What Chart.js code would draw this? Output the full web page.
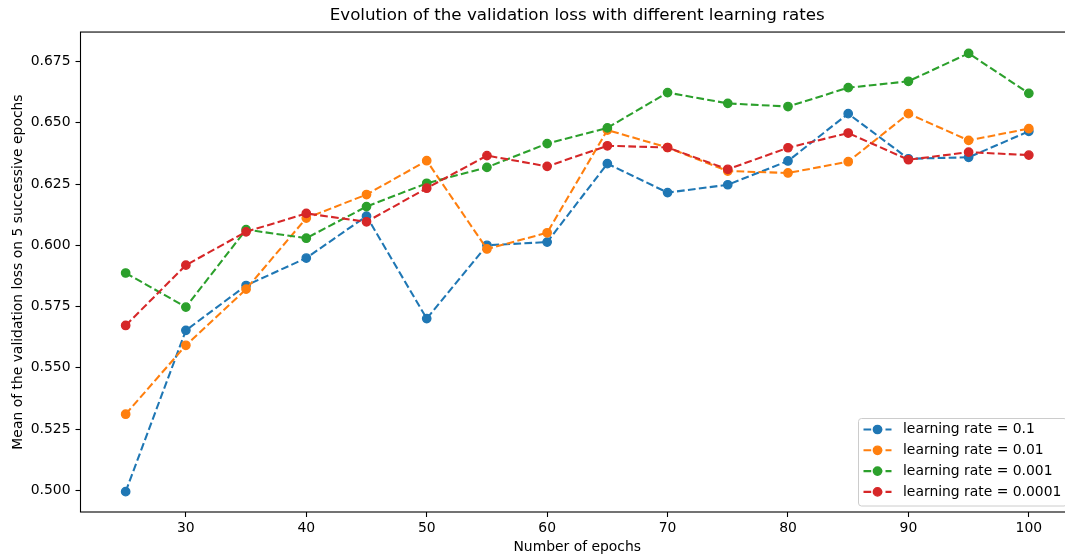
<!DOCTYPE html>
<html>
<head>
<meta charset="utf-8">
<script src="https://cdn.jsdelivr.net/npm/chart.js@4"></script>
<style>
  html, body { margin: 0; padding: 0; background: #fff; overflow: hidden; }
  /* el borde derecho del grafico original queda fuera de la imagen */
  #wrap { width: 1065px; height: 556px; overflow: hidden; }
</style>
</head>
<body>
<div id="wrap"><canvas id="lossChart" width="1080" height="556"></canvas></div>
<script>
// Datos
const epochs = [25, 30, 35, 40, 45, 50, 55, 60, 65, 70, 75, 80, 85, 90, 95, 100];
const lossLr1 = [0.4995, 0.5653, 0.5836, 0.5948, 0.6119, 0.5701, 0.6000, 0.6013, 0.6333, 0.6215, 0.6247, 0.6344, 0.6537, 0.6353, 0.6359, 0.6465];
const lossLr01 = [0.5311, 0.5592, 0.5821, 0.6111, 0.6207, 0.6345, 0.5985, 0.6051, 0.6470, 0.6399, 0.6303, 0.6295, 0.6341, 0.6537, 0.6428, 0.6476];
const lossLr001 = [0.5887, 0.5748, 0.6064, 0.6029, 0.6158, 0.6253, 0.6318, 0.6415, 0.6479, 0.6623, 0.6579, 0.6566, 0.6643, 0.6669, 0.6783, 0.6620];
const lossLr0001 = [0.5673, 0.5919, 0.6055, 0.6130, 0.6096, 0.6233, 0.6366, 0.6322, 0.6406, 0.6399, 0.6310, 0.6398, 0.6458, 0.6349, 0.6380, 0.6368];
const seriesLabels = ['learning rate = 0.1', 'learning rate = 0.01', 'learning rate = 0.001', 'learning rate = 0.0001'];
const xTicks = [30, 40, 50, 60, 70, 80, 90, 100];
const yTicks = [0.500, 0.525, 0.550, 0.575, 0.600, 0.625, 0.650, 0.675];

const colors = ['#1f77b4', '#ff7f0e', '#2ca02c', '#d62728'];
const FONT = "'DejaVu Sans', sans-serif";
const dash = [7.7, 3.3];

function makeDataset(label, values, i) {
    return {
        label: label,
        data: epochs.map((e, k) => ({ x: e, y: values[k] })),
        borderColor: colors[i],
        backgroundColor: colors[i],
        borderWidth: 2.08,
        borderDash: dash,
        pointRadius: 4.17,
        pointBorderWidth: 1.39,
        pointBackgroundColor: colors[i],
        pointBorderColor: colors[i],
        tension: 0,
        fill: false,
        order: 3 - i  // el primero queda debajo
    };
}

// Marco del grafico y leyenda estilo matplotlib
const framePlugin = {
    id: 'frame',
    afterDatasetsDraw(chart) {
        const { ctx, chartArea: a } = chart;
        ctx.save();
        ctx.strokeStyle = '#000';
        ctx.lineWidth = 1.1;
        ctx.strokeRect(a.left, a.top, a.right - a.left, a.bottom - a.top);
        ctx.restore();
    },
    afterDraw(chart) {
        const ctx = chart.ctx;
        const a = chart.chartArea;
        const x1 = a.right - 7, y1 = a.bottom - 6;
        const x0 = 858.5, y0 = 418.5;
        ctx.save();
        ctx.beginPath();
        ctx.roundRect(x0, y0, x1 - x0, y1 - y0, 3);
        ctx.fillStyle = 'rgba(255,255,255,0.8)';
        ctx.fill();
        ctx.strokeStyle = '#cccccc';
        ctx.lineWidth = 1;
        ctx.stroke();
        chart.data.datasets.forEach((ds, i) => {
            const y = 429.5 + i * 20.8;
            ctx.beginPath();
            ctx.setLineDash(dash);
            ctx.strokeStyle = ds.borderColor;
            ctx.lineWidth = 2.08;
            ctx.moveTo(863.5, y);
            ctx.lineTo(891.5, y);
            ctx.stroke();
            ctx.setLineDash([]);
            ctx.beginPath();
            ctx.arc(877.5, y, 4.17, 0, Math.PI * 2);
            ctx.fillStyle = ds.borderColor;
            ctx.fill();
            ctx.lineWidth = 1.39;
            ctx.stroke();
            ctx.fillStyle = '#000';
            ctx.font = '13.9px ' + FONT;
            ctx.textBaseline = 'middle';
            ctx.fillText(ds.label, 903, y);
        });
        ctx.restore();
    }
};

const chart = new Chart(document.getElementById('lossChart').getContext('2d'), {
    type: 'line',
    data: {
        datasets: [
            makeDataset(seriesLabels[0], lossLr1, 0),
            makeDataset(seriesLabels[1], lossLr01, 1),
            makeDataset(seriesLabels[2], lossLr001, 2),
            makeDataset(seriesLabels[3], lossLr0001, 3)
        ]
    },
    options: {
        responsive: false,
        animation: false,
        layout: { padding: { left: 0, right: 6, top: 0, bottom: 0 } },
        plugins: {
            legend: { display: false },
            tooltip: { enabled: false },
            title: {
                display: true,
                text: 'Evolution of the validation loss with different learning rates',
                color: '#000',
                fullSize: false,
                font: { family: FONT, size: 16.7, weight: 'normal' },
                padding: { top: 6, bottom: 6 }
            }
        },
        scales: {
            x: {
                type: 'linear',
                min: 21.25,
                max: 103.75,
                afterBuildTicks: s => { s.ticks = xTicks.map(v => ({ value: v })); },
                afterFit: s => { s.height = 44; s.paddingLeft = 0; s.paddingRight = 0; },
                ticks: {
                    autoSkip: false,
                    maxRotation: 0,
                    color: '#000',
                    padding: 3,
                    font: { family: FONT, size: 13.9 },
                    callback: v => String(v)
                },
                grid: { drawOnChartArea: false, drawTicks: true, tickLength: 5, tickColor: '#000', tickWidth: 1.1 },
                border: { display: false },
                title: {
                    display: true,
                    text: 'Number of epochs',
                    color: '#000',
                    font: { family: FONT, size: 13.9 },
                    padding: { top: 0, bottom: 0 }
                }
            },
            y: {
                type: 'linear',
                min: 0.4912,
                max: 0.6870,
                afterBuildTicks: s => { s.ticks = yTicks.map(v => ({ value: v })); },
                afterFit: s => { s.width = 80.5; },
                ticks: {
                    autoSkip: false,
                    color: '#000',
                    padding: 5,
                    font: { family: FONT, size: 13.9 },
                    callback: v => Number(v).toFixed(3)
                },
                grid: { drawOnChartArea: false, drawTicks: true, tickLength: 5, tickColor: '#000', tickWidth: 1.1 },
                border: { display: false },
                title: {
                    display: true,
                    text: 'Mean of the validation loss on 5 successive epochs',
                    color: '#000',
                    font: { family: FONT, size: 13.9 },
                    padding: { top: 10, bottom: 0 }
                }
            }
        }
    },
    plugins: [framePlugin]
});
</script>
</body>
</html>
